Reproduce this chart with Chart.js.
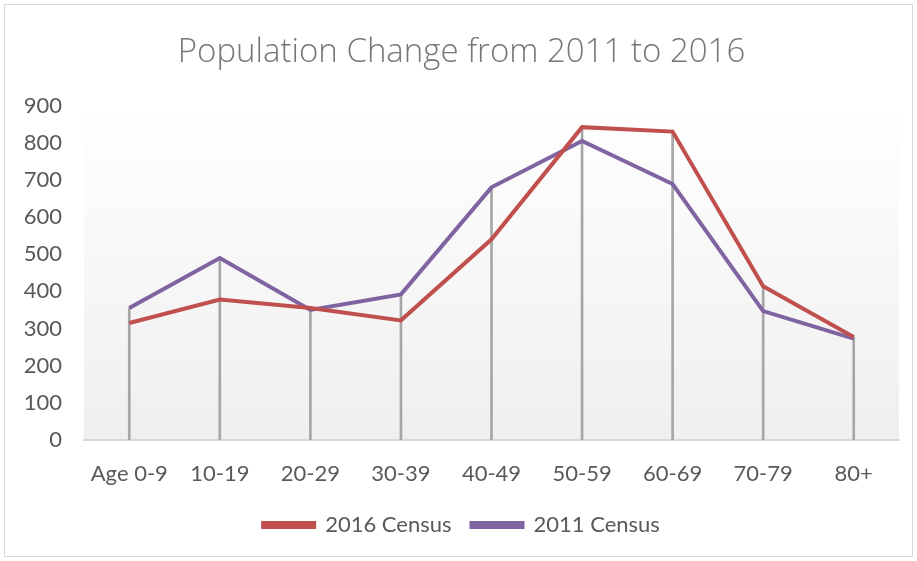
<!DOCTYPE html>
<html>
<head>
<meta charset="utf-8">
<script src="https://cdn.jsdelivr.net/npm/chart.js@4"></script>
<style>
  html, body { margin: 0; padding: 0; background: #fff; }
  #chart { position: absolute; left: 0; top: 0; }
  #frame { position: absolute; left: 4px; top: 4px; width: 909px; height: 553px; border: 1px solid #d9d9d9; box-sizing: border-box; pointer-events: none; }
</style>
</head>
<body>
<canvas id="chart" width="917" height="561"></canvas>
<div id="frame"></div>
<script>
// age groups
const ageGroups = ['Age 0-9', '10-19', '20-29', '30-39', '40-49', '50-59', '60-69', '70-79', '80+'];
// census counts
const census2016 = [315, 378, 355, 322, 540, 842, 830, 414, 277];
const census2011 = [355, 490, 350, 392, 680, 805, 689, 347, 273];
const yTicks = [0, 100, 200, 300, 400, 500, 600, 700, 800, 900];

// drop lines go up to the higher of the two series
const dropTops = census2016.map((v, i) => [0, Math.max(v, census2011[i])]);

const plotBg = {
    id: 'plotBg',
    beforeDraw(chart) {
        const { ctx, chartArea: a } = chart;
        const g = ctx.createLinearGradient(0, a.top, 0, a.bottom);
        g.addColorStop(0, '#ffffff');
        g.addColorStop(1, '#efefef');
        ctx.save();
        ctx.fillStyle = g;
        ctx.fillRect(a.left, a.top, a.right - a.left, a.bottom - a.top);
        ctx.restore();
    }
};

const font = 'Lato, "Open Sans", sans-serif';

new Chart(document.getElementById('chart'), {
    type: 'line',
    data: {
        labels: ageGroups,
        datasets: [{
            label: '2016 Census',
            data: census2016,
            borderColor: '#C0504D',
            backgroundColor: '#C0504D',
            borderWidth: 4,
            pointRadius: 0,
            tension: 0,
            order: 1
        }, {
            label: '2011 Census',
            data: census2011,
            borderColor: '#8064A2',
            backgroundColor: '#8064A2',
            borderWidth: 4,
            pointRadius: 0,
            tension: 0,
            order: 2
        }, {
            type: 'bar',
            label: 'drop',
            data: dropTops,
            backgroundColor: '#a6a6a6',
            barThickness: 2,
            grouped: false,
            order: 3
        }]
    },
    options: {
        responsive: false,
        animation: false,
        events: [],
        layout: { padding: { left: 24, right: 18, top: 10, bottom: 15 } },
        plugins: {
            title: {
                display: true,
                text: 'Population Change from 2011 to 2016',
                color: '#767676',
                font: { family: '"Open Sans", Lato, sans-serif', size: 33, weight: 300 },
                padding: { top: 23, bottom: 33 }
            },
            legend: {
                position: 'bottom',
                labels: {
                    filter: item => item.text !== 'drop',
                    boxWidth: 51,
                    boxHeight: 4,
                    color: '#595959',
                    font: { family: font, size: 22 },
                    padding: 20
                }
            },
            tooltip: { enabled: false }
        },
        scales: {
            x: {
                offset: true,
                grid: { display: false, drawTicks: false },
                border: { display: true, color: '#d9d9d9', width: 2 },
                ticks: { color: '#595959', font: { family: font, size: 22 }, padding: 21, maxRotation: 0 },
                afterFit: axis => { axis.height = 54; }
            },
            y: {
                min: 0,
                max: 900,
                afterBuildTicks: axis => { axis.ticks = yTicks.map(v => ({ value: v })); },
                grid: { display: false, drawTicks: false },
                border: { display: false },
                ticks: { color: '#595959', font: { family: font, size: 22 }, padding: 22 },
                afterFit: axis => { axis.width = 60; }
            }
        }
    },
    plugins: [plotBg]
});
</script>
</body>
</html>
